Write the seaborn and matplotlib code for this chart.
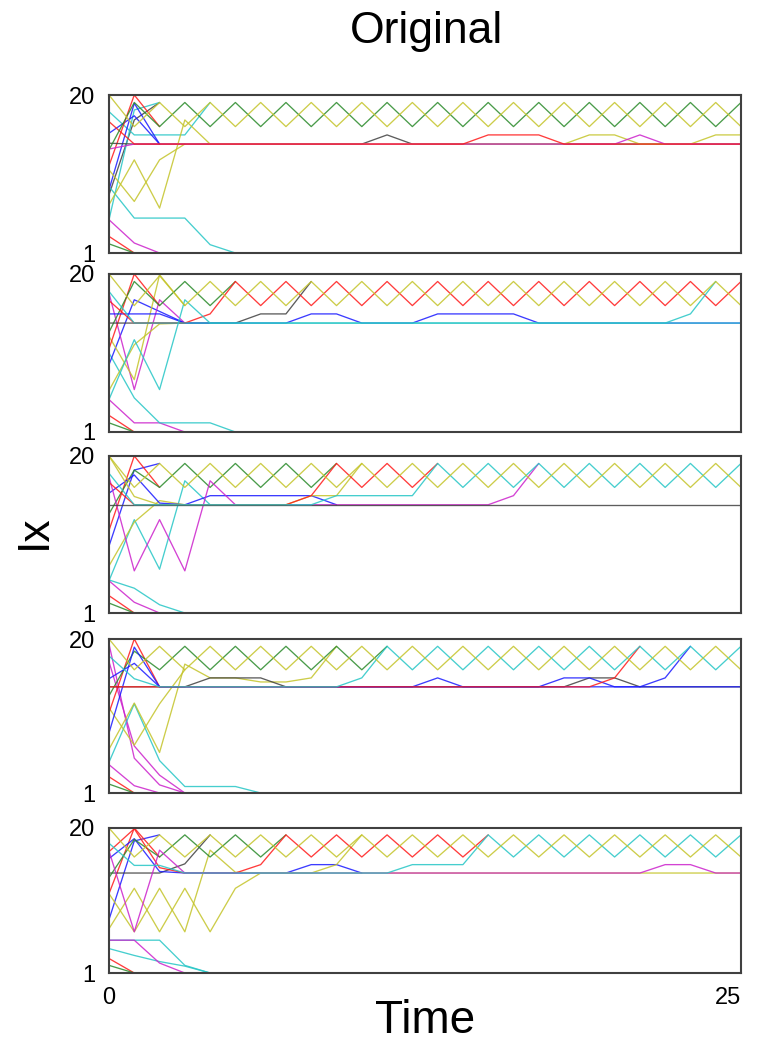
import numpy as np
import pandas as pd
import seaborn as sns
import matplotlib.pyplot as plt

sns.set_style("white")
plt.rcParams["font.family"] = ["Liberation Sans", "DejaVu Sans"]
plt.rcParams["text.color"] = "black"
plt.rcParams["xtick.color"] = "black"
plt.rcParams["ytick.color"] = "black"

# time axis (one value per step)
time = [0, 1, 2, 3, 4, 5, 6, 7, 8, 9, 10, 11, 12, 13, 14, 15, 16, 17, 18, 19, 20, 21, 22, 23, 24, 25]

colors = {"r": "#ff1a1a", "g": "#2a8a2a", "b": "#1a1aff", "c": "#26c6c6",
          "m": "#cc22cc", "y": "#c4c42a", "k": "#404040"}

# panel 1 trajectories (colour, values from t=0), drawn in this order
p1 = [
    ("r", [3.0, 1.0]),
    ("g", [2.1, 1.0]),
    ("m", [5.0, 2.2, 1.0]),
    ("k", [8.0, 17.0, 19.1]),
    ("c", [5.0, 18.2, 19.1]),
    ("c", [9.0, 5.2, 5.2, 5.2, 2.0, 1.0]),
    ("c", [18.0, 15.2, 15.2, 15.2, 19.1]),
    ("b", [8.6, 19.0, 14.1]),
    ("b", [15.4, 17.5, 14.1]),
    ("y", [11.0, 7.2, 12.2, 14.1]),
    ("r", [11.5, 20.0, 16.2]),
    ("k", [14.2, 14.1, 14.1, 14.1, 14.1, 14.1, 14.1, 14.1, 14.1, 14.1, 14.1, 15.2, 14.1,
           14.1, 14.1, 14.1, 14.1, 14.1, 14.1, 14.1, 14.1, 14.1, 14.1, 14.1, 14.1, 14.1]),
    ("y", [6.8, 12.2, 6.4, 17.0, 14.1, 14.1, 14.1, 14.1, 14.1, 14.1, 14.1, 14.1, 14.1,
           14.1, 14.1, 14.1, 14.1, 14.1, 14.1, 15.2, 15.2, 14.1, 14.1, 14.1, 15.2, 15.2]),
    ("m", [13.5, 14.1, 14.1, 14.1, 14.1, 14.1, 14.1, 14.1, 14.1, 14.1, 14.1, 14.1, 14.1,
           14.1, 14.1, 14.1, 14.1, 14.1, 14.1, 14.1, 14.1, 15.2, 14.1, 14.1, 14.1, 14.1]),
    ("r", [16.8, 14.1, 14.1, 14.1, 14.1, 14.1, 14.1, 14.1, 14.1, 14.1, 14.1, 14.1, 14.1,
           14.1, 14.1, 15.2, 15.2, 15.2, 14.1, 14.1, 14.1, 14.1, 14.1, 14.1, 14.1, 14.1]),
    ("g", [13.4, 19.1, 16.2, 19.1, 16.2, 19.1, 16.2, 19.1, 16.2, 19.1, 16.2, 19.1, 16.2,
           19.1, 16.2, 19.1, 16.2, 19.1, 16.2, 19.1, 16.2, 19.1, 16.2, 19.1, 16.2, 19.1]),
    ("y", [20.0, 16.2, 19.1, 16.2, 19.1, 16.2, 19.1, 16.2, 19.1, 16.2, 19.1, 16.2, 19.1,
           16.2, 19.1, 16.2, 19.1, 16.2, 19.1, 16.2, 19.1, 16.2, 19.1, 16.2, 19.1, 16.2]),
]

p2 = [
    ("r", [3.0, 1.0]),
    ("g", [2.1, 1.0]),
    ("m", [4.9, 2.1, 2.1, 1.0]),
    ("c", [10.5, 5.1, 2.1, 2.1, 2.1, 1.0]),
    ("b", [9.1, 16.9, 15.5, 14.1]),
    ("m", [17.7, 6.1, 16.9, 14.1]),
    ("y", [12.5, 7.3, 19.9, 16.2]),
    ("y", [6.0, 11.5, 14.0, 14.1]),
    ("r", [11.0, 20.0, 16.2]),
    ("g", [13.0, 19.1, 16.2, 19.1, 16.2, 19.1]),
    ("k", [14.1, 14.1, 14.1, 14.1, 14.1, 14.1, 15.2, 15.2, 19.1]),
    ("b", [15.2, 15.2, 15.2, 14.1, 14.1, 14.1, 14.1, 14.1, 15.2, 15.2, 14.1, 14.1, 14.1,
           15.2, 15.2, 15.2, 15.2, 14.1, 14.1, 14.1, 14.1, 14.1, 14.1, 14.1, 14.1, 14.1]),
    ("r", [16.8, 14.1, 14.1, 14.1, 15.2, 19.1, 16.2, 19.1, 16.2, 19.1, 16.2, 19.1, 16.2,
           19.1, 16.2, 19.1, 16.2, 19.1, 16.2, 19.1, 16.2, 19.1, 16.2, 19.1, 16.2, 19.1]),
    ("c", [4.9, 12.1, 6.1, 16.9, 14.1, 14.1, 14.1, 14.1, 14.1, 14.1, 14.1, 14.1, 14.1,
           14.1, 14.1, 14.1, 14.1, 14.1, 14.1, 14.1, 14.1, 14.1, 14.1, 15.2, 19.1]),
    ("c", [17.9, 14.1, 14.1, 14.1, 14.1, 14.1, 14.1, 14.1, 14.1, 14.1, 14.1, 14.1, 14.1,
           14.1, 14.1, 14.1, 14.1, 14.1, 14.1, 14.1, 14.1, 14.1, 14.1, 14.1, 14.1, 14.1]),
    ("y", [20.0, 16.2, 19.8, 16.2, 19.1, 16.2, 19.1, 16.2, 19.1, 16.2, 19.1, 16.2, 19.1,
           16.2, 19.1, 16.2, 19.1, 16.2, 19.1, 16.2, 19.1, 16.2, 19.1, 16.2, 19.1, 16.2]),
]

p3 = [
    ("r", [3.1, 1.0]),
    ("g", [2.2, 1.0]),
    ("m", [4.9, 2.3, 1.0]),
    ("c", [5.0, 4.0, 2.0, 1.0]),
    ("b", [9.1, 18.3, 19.1]),
    ("r", [11.0, 20.0, 16.2]),
    ("c", [4.9, 12.3, 6.3, 17.0, 14.1]),
    ("y", [6.7, 12.0, 14.6, 14.1]),
    ("g", [13.0, 18.3, 16.2, 19.1, 16.2, 19.1, 16.2, 19.1, 16.2, 19.1]),
    ("b", [15.5, 17.7, 14.3, 14.1, 15.2, 15.2, 15.2, 15.2, 15.2, 14.1]),
    ("m", [17.5, 6.1, 12.3, 6.1, 17.0, 14.1, 14.1, 14.1, 14.1, 14.1, 14.1, 14.1, 14.1,
           14.1, 14.1, 14.1, 15.2, 19.1]),
    ("y", [20.0, 15.1, 14.1, 14.1, 14.1, 14.1, 14.1, 14.1, 15.2, 15.2, 19.1]),
    ("r", [16.8, 14.1, 14.1, 14.1, 14.1, 14.1, 14.1, 14.1, 15.2, 19.1, 16.2, 19.1, 16.2, 19.1]),
    ("k", [14.1, 14.1, 14.1, 14.1, 14.1, 14.1, 14.1, 14.1, 14.1, 14.1, 14.1, 14.1, 14.1,
           14.1, 14.1, 14.1, 14.1, 14.1, 14.1, 14.1, 14.1, 14.1, 14.1, 14.1, 14.1, 14.1]),
    ("c", [17.9, 14.1, 14.1, 14.1, 14.1, 14.1, 14.1, 14.1, 14.1, 15.2, 15.2, 15.2, 15.2,
           19.1, 16.2, 19.1, 16.2, 19.1, 16.2, 19.1, 16.2, 19.1, 16.2, 19.1, 16.2, 19.1]),
    ("y", [20.0, 16.2, 19.1, 16.2, 19.1, 16.2, 19.1, 16.2, 19.1, 16.2, 19.1, 16.2, 19.1,
           16.2, 19.1, 16.2, 19.1, 16.2, 19.1, 16.2, 19.1, 16.2, 19.1, 16.2, 19.1, 16.2]),
]

p4 = [
    ("r", [3.0, 1.0]),
    ("g", [2.1, 1.0]),
    ("m", [4.5, 1.9, 1.0]),
    ("m", [19.4, 5.3, 2.0, 1.0]),
    ("m", [17.2, 6.8, 3.2, 1.0]),
    ("c", [4.8, 12.0, 5.0, 1.8, 1.8, 1.8, 1.0]),
    ("y", [11.5, 6.9, 12.0, 16.2]),
    ("r", [10.9, 20.0, 14.1]),
    ("y", [6.4, 12.1, 6.0, 16.9, 15.2, 15.2, 14.7, 14.7, 15.2, 19.1]),
    ("g", [13.0, 18.5, 16.2, 19.1, 16.2, 19.1, 16.2, 19.1, 16.2, 19.1, 16.2, 19.1]),
    ("k", [14.1, 14.1, 14.1, 14.1, 15.2, 15.2, 15.2, 14.1, 14.1, 14.1, 14.1, 14.1, 14.1,
           14.1, 14.1, 14.1, 14.1, 14.1, 14.1, 15.2, 15.2, 14.1, 14.1, 14.1, 14.1, 14.1]),
    ("b", [15.1, 17.0, 14.1, 14.1, 14.1, 14.1, 14.1, 14.1, 14.1, 14.1, 14.1, 14.1, 14.1,
           15.2, 14.1, 14.1, 14.1, 14.1, 15.2, 15.2, 14.1, 14.1, 14.1, 14.1, 14.1, 14.1]),
    ("b", [8.4, 19.0, 14.1, 14.1, 14.1, 14.1, 14.1, 14.1, 14.1, 14.1, 14.1, 14.1, 14.1,
           14.1, 14.1, 14.1, 14.1, 14.1, 14.1, 14.1, 14.1, 14.1, 15.2, 19.1]),
    ("r", [14.1, 14.1, 14.1, 14.1, 14.1, 14.1, 14.1, 14.1, 14.1, 14.1, 14.1, 14.1, 14.1,
           14.1, 14.1, 14.1, 14.1, 14.1, 14.1, 14.1, 15.2, 19.1]),
    ("c", [17.9, 15.1, 14.1, 14.1, 14.1, 14.1, 14.1, 14.1, 14.1, 14.1, 15.2, 19.1, 16.2,
           19.1, 16.2, 19.1, 16.2, 19.1, 16.2, 19.1, 16.2, 19.1, 16.2, 19.1, 16.2, 19.1]),
    ("y", [20.0, 16.2, 19.1, 16.2, 19.1, 16.2, 19.1, 16.2, 19.1, 16.2, 19.1, 16.2, 19.1,
           16.2, 19.1, 16.2, 19.1, 16.2, 19.1, 16.2, 19.1, 16.2, 19.1, 16.2, 19.1, 16.2]),
]

p5 = [
    ("r", [2.9, 1.0]),
    ("g", [2.0, 1.0]),
    ("c", [4.2, 3.3, 2.5, 1.9, 1.0]),
    ("c", [5.3, 5.3, 5.3, 2.0, 1.0]),
    ("m", [5.3, 5.3, 2.3, 1.0]),
    ("b", [8.0, 18.3, 19.1]),
    ("r", [11.4, 20.0, 16.2]),
    ("k", [14.1, 14.1, 14.1, 15.3, 19.1]),
    ("b", [16.0, 18.6, 14.3, 14.1, 14.1, 14.1, 14.1, 14.1, 15.2, 15.2, 14.1]),
    ("y", [11.4, 6.4, 12.1, 6.4, 17.1, 14.2, 14.1, 14.1, 14.1, 15.2, 19.1]),
    ("g", [13.5, 18.5, 16.2, 19.1, 16.2, 19.1, 16.2, 19.1]),
    ("r", [16.9, 19.9, 14.8, 14.1, 14.1, 14.1, 15.2, 19.1, 16.2, 19.1, 16.2, 19.1, 16.2,
           19.1, 16.2, 19.1]),
    ("y", [6.8, 12.1, 6.4, 12.1, 6.4, 12.1, 14.1, 14.1, 14.1, 14.1, 14.1, 14.1, 14.1,
           14.1, 14.1, 14.1, 14.1, 14.1, 14.1, 14.1, 14.1, 14.1, 14.1, 14.1, 14.1, 14.1]),
    ("m", [17.0, 6.4, 17.1, 14.1, 14.1, 14.1, 14.1, 14.1, 14.1, 14.1, 14.1, 14.1, 14.1,
           14.1, 14.1, 14.1, 14.1, 14.1, 14.1, 14.1, 14.1, 14.1, 15.2, 15.2, 14.1, 14.1]),
    ("c", [18.0, 15.1, 15.1, 14.1, 14.1, 14.1, 14.1, 14.1, 14.1, 14.1, 14.1, 14.1, 15.2,
           15.2, 15.2, 19.1, 16.2, 19.1, 16.2, 19.1, 16.2, 19.1, 16.2, 19.1, 16.2, 19.1]),
    ("y", [20.0, 16.2, 19.1, 16.2, 19.1, 16.2, 19.1, 16.2, 19.1, 16.2, 19.1, 16.2, 19.1,
           16.2, 19.1, 16.2, 19.1, 16.2, 19.1, 16.2, 19.1, 16.2, 19.1, 16.2, 19.1, 16.2]),
]

panels = [p1, p2, p3, p4, p5]

# pixel frame of each panel (top, bottom) in the 758x1041 figure
frames = [(95, 253), (274, 432), (456, 613), (639, 793), (828, 973)]

W, H = 758, 1041
fig = plt.figure(figsize=(W / 100, H / 100), dpi=100)

for i, lines in enumerate(panels):
    top, bot = frames[i]
    ax = fig.add_axes([109 / W, 1 - bot / H, 632 / W, (bot - top) / H])
    for c, vals in lines:
        sns.lineplot(x=time[:len(vals)], y=vals, color=colors[c], lw=0.95, alpha=0.85,
                     ax=ax, estimator=None, sort=False, legend=False)
    ax.set_xlim(0, 25)
    ax.set_ylim(1, 20)
    ax.set_yticks([1, 20])
    ax.set_yticklabels(["1", "20"])
    ax.set_xlabel("")
    ax.set_ylabel("")
    if i == len(panels) - 1:
        ax.set_xticks([0, 25])
        ax.set_xticklabels(["0", "25"])
        ax.get_xticklabels()[1].set_ha("right")
    else:
        ax.set_xticks([])
    ax.tick_params(length=0, labelsize=17, pad=10, labelcolor="black")
    for s in ax.spines.values():
        s.set_color("#404040")
        s.set_linewidth(1.5)

fig.text(427 / W, 1 - 31 / H, "Original", fontsize=32, ha="center", va="center")
fig.text(425 / W, 1 - 1033 / H, "Time", fontsize=33, ha="center", va="baseline")
fig.text(34 / W, 1 - 532 / H, "Ix", fontsize=32, rotation=90, ha="center", va="center")

fig.savefig("out.png", dpi=100)
